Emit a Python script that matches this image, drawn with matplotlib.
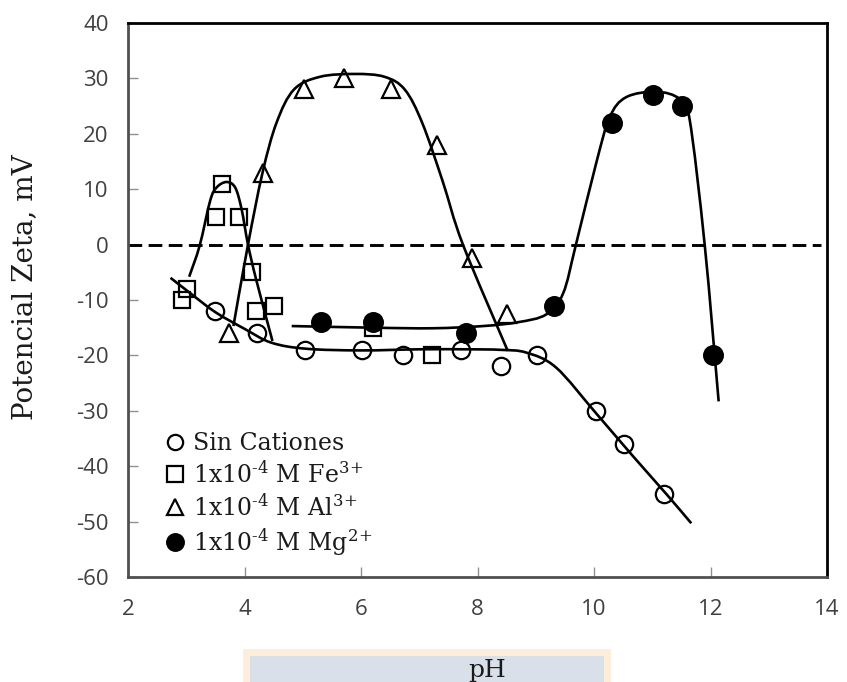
import numpy as np
import matplotlib
matplotlib.use("Agg")
import matplotlib.pyplot as plt
from matplotlib.path import Path
from matplotlib.patches import PathPatch, Rectangle
from matplotlib.lines import Line2D

plt.rcParams["mathtext.fontset"] = "dejavuserif"

# ---------------- data ----------------
sin_ph = [3.49, 4.21, 5.04, 6.01, 6.72, 7.71, 8.41, 9.03, 10.03, 10.52, 11.21]
sin_z = [-12.0, -16.0, -19.0, -19.0, -20.0, -19.0, -22.0, -20.0, -30.0, -36.0, -45.0]

fe_ph = [2.92, 3.02, 3.51, 3.61, 3.91, 4.13, 4.20, 4.50, 6.21, 7.22]
fe_z = [-10.0, -8.0, 5.0, 11.0, 5.0, -5.0, -12.0, -11.0, -15.0, -20.0]

al_ph = [3.73, 4.32, 5.02, 5.70, 6.51, 7.31, 7.91, 8.50]
al_z = [-16.0, 13.0, 28.0, 30.0, 28.0, 18.0, -2.5, -12.5]

mg_ph = [5.31, 6.21, 7.81, 9.31, 10.31, 11.01, 11.51, 12.04]
mg_z = [-14.0, -14.0, -16.0, -11.0, 22.0, 27.0, 25.0, -20.0]

# hand-drawn trend curves (knots)
sin_curve_ph = [2.73, 3.06, 3.50, 4.00, 4.46, 5.06, 6.00, 7.00, 7.81, 8.40, 8.84, 9.35, 10.04, 10.67, 11.24, 11.67]
sin_curve_z = [-6.0, -8.7, -12.2, -15.2, -17.7, -18.8, -19.1, -18.9, -18.9, -19.0, -19.5, -22.2, -30.5, -38.2, -45.0, -50.3]

fe_curve_ph = [3.05, 3.23, 3.41, 3.52, 3.69, 3.84, 3.95, 4.06, 4.20, 4.48]
fe_curve_z = [-5.8, -0.2, 7.9, 10.3, 11.3, 10.3, 6.4, 0.0, -6.3, -17.4]

al_curve_ph = [3.81, 4.06, 4.31, 4.55, 4.85, 5.30, 5.90, 6.40, 6.75, 7.05, 7.40, 7.75, 8.52]
al_curve_z = [-14.7, 0.0, 13.0, 22.0, 28.0, 30.3, 30.8, 30.3, 28.0, 22.0, 11.5, 0.0, -19.2]

mg_curve_ph = [4.81, 6.21, 7.24, 8.10, 8.70, 9.18, 9.47, 9.69, 10.04, 10.27, 10.55, 11.07, 11.47, 11.64, 11.90, 12.14]
mg_curve_z = [-14.7, -15.0, -15.1, -14.7, -14.0, -12.6, -8.8, 0.0, 14.8, 23.0, 26.6, 27.6, 26.3, 22.7, 0.0, -28.3]

legend_labels = ["Sin Cationes",
                 "1x10$^{\u20104}$ M Fe$^{3}$$^{+}$",
                 "1x10$^{\u20104}$ M Al$^{3}$$^{+}$",
                 "1x10$^{\u20104}$ M Mg$^{2}$$^{+}$"]
x_ticks = [2, 4, 6, 8, 10, 12, 14]
y_ticks = [40, 30, 20, 10, 0, -10, -20, -30, -40, -50, -60]
x_label = "pH"
y_label = "Potencial Zeta, mV"

# ---------------- figure ----------------
W, H = 847, 682
fig = plt.figure(figsize=(W / 100, H / 100), dpi=100)
ax = fig.add_axes([128 / W, 1 - 577 / H, (827 - 128) / W, (577 - 23) / H])
ax.set_xlim(2, 14)
ax.set_ylim(-60, 40)


def smooth_path(xs, ys):
    pts = np.column_stack([xs, ys]).astype(float)
    n = len(pts)
    verts = [pts[0]]
    codes = [Path.MOVETO]
    for i in range(n - 1):
        p0 = pts[i - 1] if i > 0 else pts[i]
        p1 = pts[i]
        p2 = pts[i + 1]
        p3 = pts[i + 2] if i + 2 < n else pts[i + 1]
        c1 = p1 + (p2 - p0) / 6.0
        c2 = p2 - (p3 - p1) / 6.0
        verts += [c1, c2, p2]
        codes += [Path.CURVE4] * 3
    return Path(verts, codes)


for cx, cy in [(sin_curve_ph, sin_curve_z), (fe_curve_ph, fe_curve_z),
               (al_curve_ph, al_curve_z), (mg_curve_ph, mg_curve_z)]:
    ax.add_patch(PathPatch(smooth_path(cx, cy), fill=False, edgecolor="black",
                           lw=1.9, capstyle="butt", zorder=3))

ax.axhline(0, xmin=0, xmax=0.992, color="black", lw=2.1, dashes=(4.7, 2.2), zorder=2)

mk = dict(linestyle="none", markeredgecolor="black", markeredgewidth=1.6)
ax.plot(sin_ph, sin_z, marker="o", markersize=12.5, markerfacecolor="none", zorder=4, **mk)
ax.plot(fe_ph, fe_z, marker="s", markersize=12, markerfacecolor="none", zorder=4, **mk)
ax.plot(al_ph, al_z, marker="^", markersize=13, markerfacecolor="none", zorder=4, **mk)
ax.plot(mg_ph, mg_z, marker="o", markersize=13.5, markerfacecolor="black", zorder=4, **mk)

ax.set_xticks(x_ticks)
ax.set_yticks(y_ticks)
ax.set_xticklabels([str(v) for v in x_ticks])
ax.set_yticklabels([str(v) for v in y_ticks])
ax.tick_params(direction="in", length=7, width=1, color="#909090",
               labelsize=16, labelcolor="#404040")
ax.tick_params(axis="x", pad=16)
ax.tick_params(axis="y", pad=14)
for lab in ax.get_xticklabels() + ax.get_yticklabels():
    lab.set_fontfamily("Open Sans")

for side in ["top", "right"]:
    ax.spines[side].set_color("black")
    ax.spines[side].set_linewidth(2)
for side in ["left", "bottom"]:
    ax.spines[side].set_color("#505050")
    ax.spines[side].set_linewidth(2)

handles = [
    Line2D([], [], marker="o", markersize=11, markerfacecolor="none", **mk),
    Line2D([], [], marker="s", markersize=11, markerfacecolor="none", **mk),
    Line2D([], [], marker="^", markersize=11, markerfacecolor="none", **mk),
    Line2D([], [], marker="o", markersize=12, markerfacecolor="black", **mk),
]
leg = ax.legend(handles, legend_labels, loc="upper left", bbox_to_anchor=(0.020, 0.300),
                frameon=False, handlelength=1.0, handletextpad=0.26, labelspacing=0.26,
                borderpad=0.4, prop={"family": "DejaVu Serif", "size": 17})
for t in leg.get_texts():
    t.set_color("#1a1a1a")

# y label
fig.text(25 / W, 1 - 287 / H, y_label, rotation=90, ha="center", va="center",
         fontsize=20, family="DejaVu Serif", color="#1a1a1a")

# x label inside a shaded box (cut by the bottom edge)
fig.patches.append(Rectangle((243 / W, -0.02), (611 - 243) / W, 0.02 + 1 - 649 / H,
                             transform=fig.transFigure, facecolor="#fdeedb",
                             edgecolor="none", zorder=0))
fig.patches.append(Rectangle((250 / W, -0.02), (604 - 250) / W, 0.02 + 1 - 656 / H,
                             transform=fig.transFigure, facecolor="#d9e0e9",
                             edgecolor="none", zorder=1))
fig.text(487 / W, 1 - 677 / H, x_label, ha="center", va="baseline",
         fontsize=18, family="DejaVu Serif", color="#1a1a1a", zorder=2)

fig.savefig("out.png", dpi=100)
